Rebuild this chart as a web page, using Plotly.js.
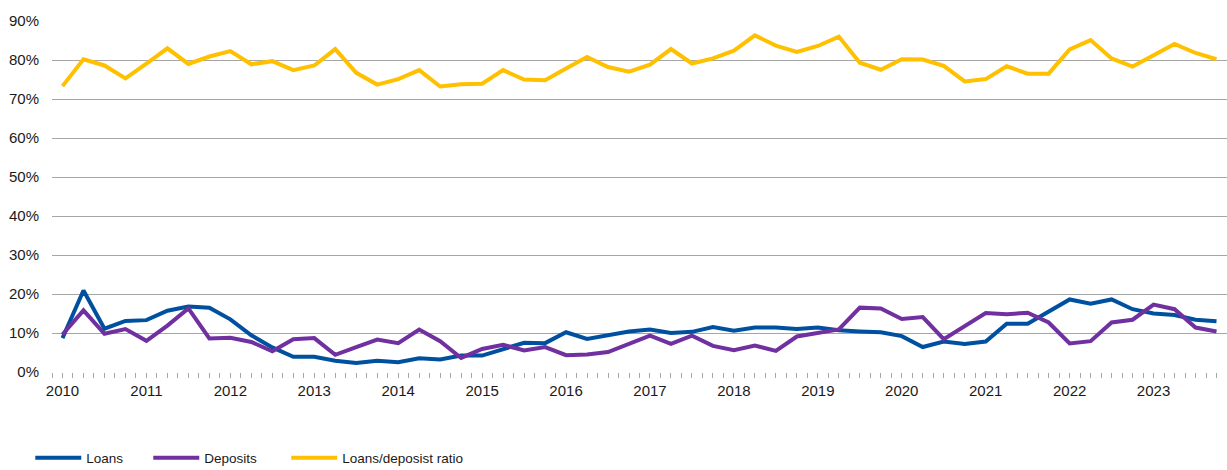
<!DOCTYPE html>
<html>
<head>
<meta charset="utf-8">
<script src="https://cdn.plot.ly/plotly-3.0.1.min.js"></script>
<style>html,body{margin:0;padding:0;background:#fff;}#chart{width:1227px;height:470px;}</style>
</head>
<body>
<div id="chart"></div>
<script>
// Quarterly data, 2010 Q1 – 2023 Q4 (percent)
const years = ['2010','2011','2012','2013','2014','2015','2016','2017','2018','2019','2020','2021','2022','2023'];

const loans = [8.7,20.9,11.1,13.1,13.3,15.7,16.8,16.5,13.5,9.4,6.3,3.9,3.9,2.9,2.3,2.9,
  2.5,3.5,3.2,4.2,4.2,5.9,7.5,7.4,10.2,8.5,9.5,10.4,10.9,10.0,10.3,11.5,
  10.6,11.4,11.4,11.0,11.4,10.7,10.4,10.2,9.2,6.4,7.8,7.2,7.8,12.4,12.4,15.6,
  18.6,17.5,18.6,16.1,15.0,14.6,13.4,13.0];

const deposits = [9.6,15.8,9.8,11.0,8.0,11.9,16.3,8.6,8.8,7.7,5.3,8.4,8.7,4.4,6.4,8.3,
  7.4,10.9,7.9,3.6,5.9,7.0,5.5,6.4,4.3,4.5,5.1,7.3,9.3,7.2,9.3,6.7,
  5.6,6.8,5.4,9.1,10.1,10.9,16.5,16.3,13.6,14.1,8.4,11.7,15.1,14.8,15.2,12.7,
  7.3,7.9,12.7,13.4,17.3,16.1,11.4,10.4];

const ratio = [73.3,80.2,78.6,75.3,79.1,83.0,79.0,80.9,82.3,78.9,79.7,77.4,78.6,82.8,76.7,73.7,
  75.1,77.4,73.2,73.8,73.9,77.4,75.0,74.8,77.8,80.8,78.2,77.0,78.8,82.8,79.1,80.4,
  82.4,86.3,83.7,82.1,83.6,86.0,79.3,77.5,80.2,80.1,78.5,74.5,75.1,78.4,76.5,76.5,
  82.7,85.1,80.4,78.3,81.2,84.1,81.8,80.2];

const seriesNames = ['Loans','Deposits','Loans/deposist ratio'];
const seriesColors = ['#0050a0','#7030a0','#ffc000'];
const legendWidths = [57, 77, 130];

// quarter positions
const xq = loans.map((_, i) => i);

// ticks every half quarter, labels at each year start
const tickvals = [];
const ticktext = [];
for (let k = -1; k <= 111; k++) {
  const v = k / 2;
  tickvals.push(v);
  if (k >= 0 && k % 8 === 0) ticktext.push(years[k / 8]); else ticktext.push('');
}

const traces = [loans, deposits, ratio].map((ys, j) => ({
  type: 'scatter', mode: 'lines', x: xq, y: ys, name: seriesNames[j],
  legendwidth: legendWidths[j],
  line: {color: seriesColors[j], width: 4},
  hoverinfo: 'skip'
}));

const layout = {
  width: 1227, height: 470,
  margin: {l: 52, r: 0, t: 21, b: 98, autoexpand: false},
  paper_bgcolor: '#ffffff', plot_bgcolor: '#ffffff',
  font: {family: 'Liberation Sans, Arial, sans-serif', size: 15, color: '#1a1a1a'},
  showlegend: true,
  xaxis: {
    range: [-0.5, 55.5], tickmode: 'array', tickvals: tickvals, ticktext: ticktext,
    ticks: 'outside', ticklen: 5, tickwidth: 1, tickcolor: '#a6a6a6',
    showgrid: false, zeroline: false, showline: false,
    tickfont: {size: 15}, fixedrange: true
  },
  yaxis: {
    range: [0, 90], dtick: 10, tick0: 0, ticksuffix: '%',
    gridcolor: '#a6a6a6', gridwidth: 1, zeroline: false, showline: false,
    ticks: '', ticklabelstandoff: 12, tickfont: {size: 15}, fixedrange: true
  },
  legend: {
    orientation: 'h', x: -0.0185, y: -0.245, xanchor: 'left', yanchor: 'middle',
    font: {size: 13.5}, bgcolor: 'rgba(0,0,0,0)', traceorder: 'normal',
    itemwidth: 46
  }
};

Plotly.newPlot('chart', traces, layout, {staticPlot: true, displayModeBar: false});
</script>
</body>
</html>
